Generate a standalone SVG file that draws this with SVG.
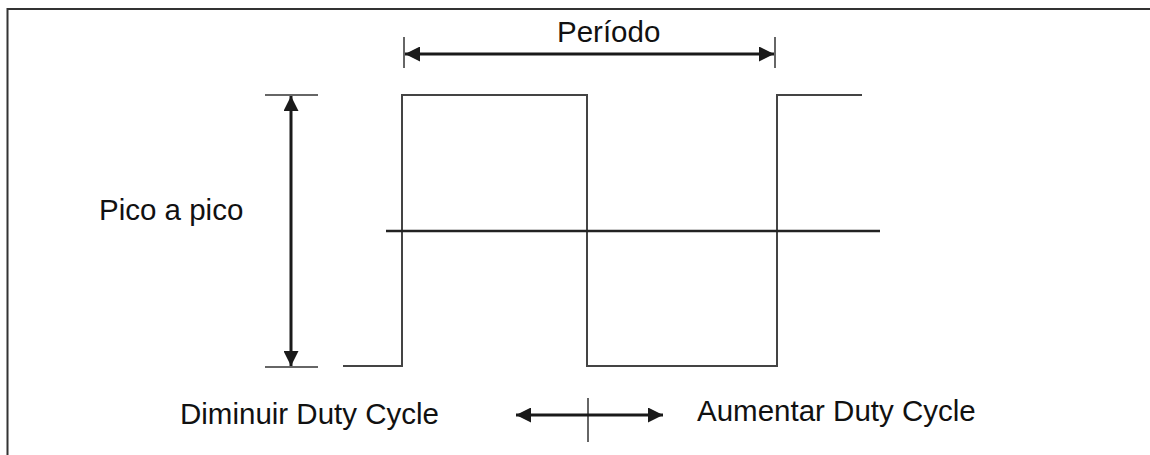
<svg xmlns="http://www.w3.org/2000/svg" width="1150" height="455" viewBox="0 0 1150 455">
<style>
.t{font-family:"Liberation Sans",Arial,sans-serif;font-size:29.5px;fill:#111}
.wave{fill:none;stroke:#444;stroke-width:2}
.mid{stroke:#222;stroke-width:2.5}
.tick{stroke:#333;stroke-width:1.5}
.arr{stroke:#1a1a1a;stroke-width:3}
</style>
<defs>
<marker id="ah" viewBox="0 0 10 10" refX="10" refY="5" markerWidth="6.5" markerHeight="5" markerUnits="strokeWidth" orient="auto-start-reverse">
<path d="M0,0 L10,5 L0,10 z" fill="#1a1a1a"/>
</marker>
</defs>
<rect width="1150" height="455" fill="#fff"/>
<g id="frame">
<path d="M7.5,455 L7.5,9 L1150,9" fill="none" stroke="#333" stroke-width="2"/>
</g>
<g id="waveform">
<polyline class="wave" points="343,366 402,366 402,95 587,95 587,366 777,366 777,95 862,95"/>
<line class="mid" x1="386" y1="231" x2="880" y2="231"/>
</g>
<g id="periodo">
<line class="tick" x1="404" y1="37" x2="404" y2="68"/>
<line class="tick" x1="775" y1="37" x2="775" y2="68"/>
<text class="t" x="557" y="42">Período</text>
</g>
<g id="pico">
<line class="tick" x1="265" y1="95" x2="318" y2="95"/>
<line class="tick" x1="265" y1="367" x2="318" y2="367"/>
<text class="t" x="99" y="220">Pico a pico</text>
</g>
<g id="duty">
<line class="tick" x1="588" y1="398" x2="588" y2="442"/>
<text class="t" x="180" y="424">Diminuir Duty Cycle</text>
<text class="t" x="697" y="421">Aumentar Duty Cycle</text>
</g>
<g id="connectors">
<line class="arr" x1="405" y1="54" x2="774" y2="54" marker-start="url(#ah)" marker-end="url(#ah)"/>
<line class="arr" x1="291" y1="96" x2="291" y2="366" marker-start="url(#ah)" marker-end="url(#ah)"/>
<line class="arr" x1="516" y1="415" x2="663" y2="415" marker-start="url(#ah)" marker-end="url(#ah)"/>
</g>
</svg>
